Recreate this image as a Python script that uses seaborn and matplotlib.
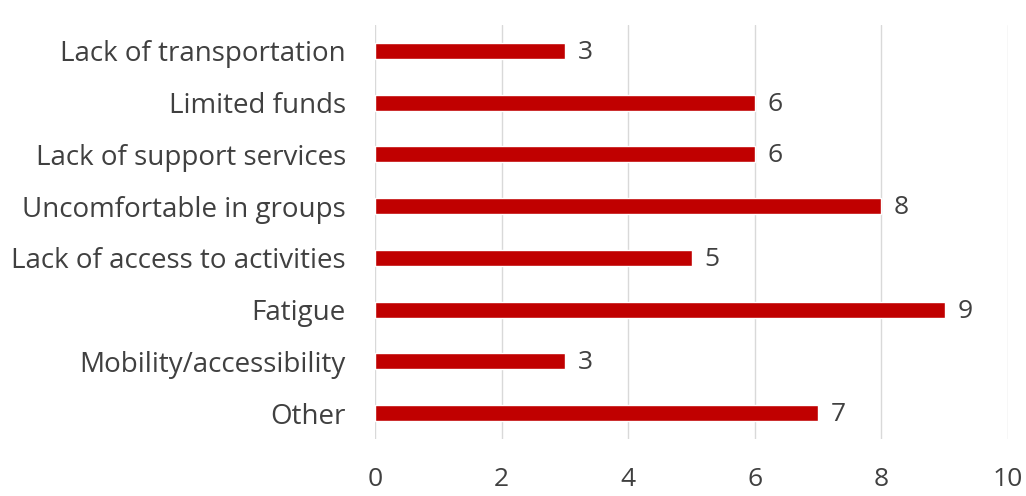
import matplotlib
matplotlib.use("Agg")
import matplotlib.pyplot as plt
import seaborn as sns
import pandas as pd

categories = [
    "Lack of transportation",
    "Limited funds",
    "Lack of support services",
    "Uncomfortable in groups",
    "Lack of access to activities",
    "Fatigue",
    "Mobility/accessibility",
    "Other",
]
counts = [3, 6, 6, 8, 5, 9, 3, 7]
x_ticks = [0, 2, 4, 6, 8, 10]

df = pd.DataFrame({"barrier": categories, "count": counts})

sns.set_theme(style="white")
plt.rcParams["font.family"] = ["Open Sans", "DejaVu Sans"]
text_color = "#404040"

fig = plt.figure(figsize=(10.26, 4.96), dpi=100)
ax = fig.add_axes([375 / 1026, 1 - 439 / 496, (1008 - 375) / 1026, (439 - 25) / 496])

sns.barplot(data=df, x="count", y="barrier", orient="h", color="#C00000",
            saturation=1, width=0.31, ax=ax)

ax.set_xlim(0, 10)
ax.set_xticks(x_ticks)
ax.set_xticklabels([str(t) for t in x_ticks])
ax.grid(axis="x", color="#D9D9D9", linewidth=1)
ax.grid(axis="y", visible=False)
ax.set_axisbelow(True)
for s in ax.spines.values():
    s.set_visible(False)
ax.set_xlabel("")
ax.set_ylabel("")
ax.tick_params(axis="x", labelsize=19, colors=text_color, pad=20, length=0)
ax.tick_params(axis="y", labelsize=20, colors=text_color, pad=21, length=0)

for i, v in enumerate(counts):
    ax.text(v + 0.2, i + 0.03, str(v), va="center", ha="left", fontsize=19, color=text_color)

fig.savefig("out.png", dpi=100)
